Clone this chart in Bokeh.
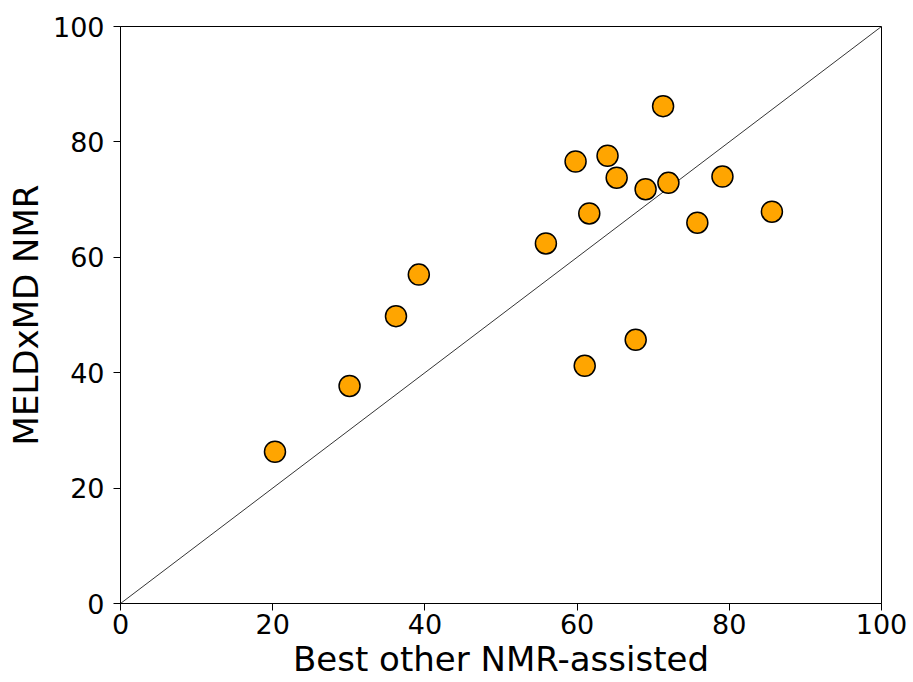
from bokeh.plotting import figure
from bokeh.models import Range1d, FixedTicker, ColumnDataSource
from bokeh.embed import file_html
from bokeh.resources import INLINE

x_vals = [20.3, 30.1, 36.2, 39.2, 55.9, 59.8, 61.6, 61.0, 64.0, 65.2, 67.7, 69.0, 71.3, 72.0, 75.8, 79.1, 85.6]
y_vals = [26.3, 37.7, 49.8, 57.0, 62.4, 76.6, 67.6, 41.2, 77.6, 73.8, 45.7, 71.8, 86.2, 72.9, 66.0, 74.0, 67.9]
ticks = [0, 20, 40, 60, 80, 100]
diag = [0, 100]

FONT = "DejaVu Sans"

p = figure(width=913, height=682, output_backend="svg", toolbar_location=None,
           x_range=Range1d(0, 100), y_range=Range1d(0, 100),
           min_border_left=120, min_border_right=32, min_border_top=26, min_border_bottom=79)
p.xgrid.visible = False
p.ygrid.visible = False
p.outline_line_color = "black"
p.outline_line_alpha = 1
p.outline_line_width = 1

p.line(diag, diag, line_color="black", line_width=0.8)
src = ColumnDataSource(dict(x=x_vals, y=y_vals))
p.scatter("x", "y", source=src, size=21, fill_color="#FFA500", line_color="black", line_width=1.5)

for ax, lab in ((p.xaxis[0], "Best other NMR-assisted"), (p.yaxis[0], "MELDxMD NMR")):
    ax.ticker = FixedTicker(ticks=ticks)
    ax.minor_tick_line_color = None
    ax.major_tick_out = 7
    ax.major_tick_in = 0
    ax.major_tick_line_color = "black"
    ax.major_tick_line_width = 1
    ax.axis_line_color = "black"
    ax.axis_line_width = 1
    ax.major_label_text_font = FONT
    ax.major_label_text_font_size = "27px"
    ax.major_label_text_color = "black"
    ax.axis_label = lab
    ax.axis_label_text_font = FONT
    ax.axis_label_text_font_size = "34px"
    ax.axis_label_text_font_style = "normal"
    ax.axis_label_text_color = "black"

p.xaxis[0].major_label_standoff = 3
p.xaxis[0].axis_label_standoff = 2
p.yaxis[0].major_label_standoff = 9
p.yaxis[0].axis_label_standoff = 4

open("out.html", "w").write(file_html(p, INLINE))
